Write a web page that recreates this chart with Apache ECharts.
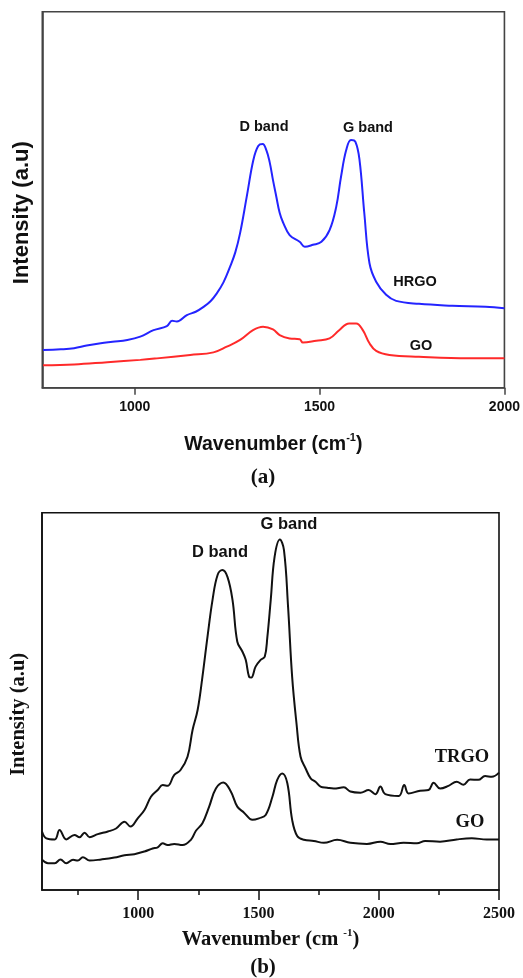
<!DOCTYPE html>
<html>
<head>
<meta charset="utf-8">
<script src="https://cdn.jsdelivr.net/npm/echarts@6/dist/echarts.min.js"></script>
<style>
html,body{margin:0;padding:0;background:#fff;}
#c{width:523px;height:978px;}
</style>
</head>
<body>
<div id="c"></div>
<script>
// ---------- Panel (a) ----------
const aTicks = [1000, 1500, 2000];
const hrgoX = [752,800,836,870,908,940,980,1015,1051,1087,1101,1114,1141,1165,1186,1205,1222,1240,1258,1272,1285,1303,1321,1334,1346,1356,1365,1374,1383,1392,1401,1419,1446,1460,1482,1505,1527,1545,1558,1572,1585,1597,1608,1621,1635,1653,1680,1707,1769,1859,1949,2000];
const hrgoY = [10.0,10.2,10.5,11.2,11.8,12.2,12.7,13.6,15.3,16.4,17.8,17.6,19.3,20.2,21.5,23.0,25.1,28.0,32.2,36.0,41.1,50.8,60.6,64.3,64.8,63.2,60.0,55.2,50.8,46.5,44.0,40.6,38.8,37.5,38.0,38.8,41.9,48.1,56.1,63.2,65.9,65.4,60.6,46.4,33.1,28.2,24.7,23.1,22.3,21.8,21.5,21.1];
const goAX = [752,836,926,1015,1060,1150,1213,1249,1285,1320,1347,1374,1392,1419,1446,1455,1491,1527,1553,1580,1599,1617,1635,1653,1689,1769,1904,2000];
const goAY = [6.0,6.2,6.8,7.4,7.8,8.7,9.4,10.9,12.7,15.3,16.2,15.5,14.0,13.1,12.9,12.0,12.5,13.1,15.3,17.1,17.1,15.3,11.8,9.8,8.7,8.2,7.8,7.8];

// ---------- Panel (b) ----------
const bTicks = [1000, 1500, 2000, 2500];
const bMinorTicks = [750, 1250, 1750, 2250];
const trgoX = [600,618,653,673,701,735,756,777,798,832,874,908,943,968,998,1026,1053,1081,1102,1122,1150,1176,1205,1226,1247,1267,1288,1309,1330,1350,1371,1392,1412,1433,1447,1461,1470,1488,1509,1526,1537,1551,1567,1589,1606,1623,1640,1658,1675,1696,1717,1737,1758,1786,1813,1855,1882,1924,1958,1986,2007,2027,2083,2106,2124,2172,2207,2228,2255,2290,2324,2352,2380,2414,2442,2470,2500];
const trgoY = [15.5,13.7,13.4,15.9,13.4,14.6,14.0,15.2,14.0,14.8,15.5,16.3,18.1,16.8,19.0,21.2,24.7,26.5,27.8,27.6,30.5,31.8,35.3,42.4,47.7,56.5,67.1,76.9,83.5,84.8,83.0,76.9,65.8,63.2,61.0,56.5,56.3,59.2,61.0,61.8,67.1,76.9,88.3,92.9,90.1,75.1,56.5,44.2,35.3,32.2,29.6,28.7,27.4,27.1,26.9,27.2,26.1,25.8,26.5,25.4,27.4,25.4,24.9,27.8,25.6,26.3,26.5,28.4,26.9,27.6,28.7,27.9,29.3,29.2,30.2,30.0,31.1];
const goBX = [600,625,653,677,701,729,749,770,798,846,901,943,984,1026,1060,1081,1102,1122,1150,1184,1219,1240,1267,1295,1323,1354,1385,1412,1440,1475,1502,1530,1558,1578,1599,1620,1640,1661,1689,1730,1772,1827,1882,1951,2007,2048,2103,2159,2193,2255,2324,2387,2449,2500];
const goBY = [8.0,7.1,7.1,8.1,7.1,8.0,7.8,8.7,7.8,8.1,8.6,9.2,9.5,10.2,11.0,11.3,12.4,11.9,12.2,11.9,13.3,15.7,17.7,22.1,26.9,28.5,26.1,22.1,20.5,18.6,19.0,19.9,24.7,29.2,30.9,28.3,18.6,14.3,13.3,13.0,12.5,13.3,12.5,12.2,12.8,12.2,12.5,12.4,13.0,12.8,13.4,13.7,13.4,13.4];

const zip = (xs, ys) => xs.map((x, i) => [x, ys[i]]);
const plain = v => String(v);

const SANS = "'Liberation Sans', Arial, sans-serif";
const SERIF = "'Liberation Serif', 'Times New Roman', serif";
const BOXA = '#444';
const BOXB = '#111';

const chart = echarts.init(document.getElementById('c'), null, {renderer: 'canvas'});

function yAxisFor(grid, color, font, size, gap) {
  return {
    gridIndex: grid, type: 'value', min: 0, max: 100,
    axisLine: {show: true, lineStyle: {color: color, width: 1.6}},
    axisTick: {show: false}, axisLabel: {show: false}, splitLine: {show: false},
    name: 'Intensity (a.u)', nameLocation: 'middle', nameRotate: 90, nameGap: gap,
    nameTextStyle: {fontFamily: font, fontWeight: 'bold', fontSize: size, color: '#111', padding: [0, 26, 0, 0]}
  };
}

const option = {
  animation: false,
  backgroundColor: '#fff',
  grid: [
    {left: 42.3, top: 11.7, width: 463.4, height: 376, show: true, borderColor: BOXA, borderWidth: 1.6, containLabel: false},
    {left: 40.7, top: 512.7, width: 458.3, height: 377.3, show: true, borderColor: BOXB, borderWidth: 1.6, containLabel: false}
  ],
  xAxis: [
    {
      gridIndex: 0, type: 'value', min: 750, max: 2000, position: 'bottom',
      axisLine: {show: true, lineStyle: {color: BOXA, width: 1.6}},
      axisTick: {show: true, customValues: aTicks, length: 7, lineStyle: {color: BOXA, width: 1.5}},
      axisLabel: {show: true, customValues: aTicks, formatter: plain, margin: 12, fontFamily: SANS, fontWeight: 'bold', fontSize: 14, color: '#111'},
      splitLine: {show: false},
      name: '{t|Wavenumber (cm}{s|-1}{t|)}', nameLocation: 'middle', nameGap: 45,
      nameTextStyle: {rich: {
        t: {fontFamily: SANS, fontWeight: 'bold', fontSize: 19.5, color: '#111', lineHeight: 24},
        s: {fontFamily: SANS, fontWeight: 'bold', fontSize: 11, color: '#111', verticalAlign: 'top', lineHeight: 24}
      }}
    },
    {
      gridIndex: 1, type: 'value', min: 600, max: 2500, position: 'bottom',
      axisLine: {show: true, lineStyle: {color: BOXB, width: 1.6}},
      axisTick: {show: true, customValues: bTicks, length: 10, lineStyle: {color: BOXB, width: 1.5}},
      axisLabel: {show: true, customValues: bTicks, formatter: plain, margin: 16, fontFamily: SERIF, fontWeight: 'bold', fontSize: 16, color: '#111'},
      splitLine: {show: false},
      name: '{t|Wavenumber (cm }{s|-1}{t|)}', nameLocation: 'middle', nameGap: 38,
      nameTextStyle: {rich: {
        t: {fontFamily: SERIF, fontWeight: 'bold', fontSize: 20.5, color: '#111', lineHeight: 24},
        s: {fontFamily: SERIF, fontWeight: 'bold', fontSize: 11, color: '#111', verticalAlign: 'top', lineHeight: 24}
      }}
    },
    {
      gridIndex: 1, type: 'value', min: 600, max: 2500, position: 'bottom',
      axisLine: {show: false},
      axisTick: {show: true, customValues: bMinorTicks, length: 5, lineStyle: {color: BOXB, width: 1.5}},
      axisLabel: {show: false},
      splitLine: {show: false}
    }
  ],
  yAxis: [
    yAxisFor(0, BOXA, SANS, 22, 9),
    yAxisFor(1, BOXB, SERIF, 20.5, 13)
  ],
  series: [
    {type: 'line', xAxisIndex: 0, yAxisIndex: 0, data: zip(hrgoX, hrgoY), showSymbol: false, smooth: 0.4,
      lineStyle: {color: '#2424ff', width: 2}},
    {type: 'line', xAxisIndex: 0, yAxisIndex: 0, data: zip(goAX, goAY), showSymbol: false, smooth: 0.4,
      lineStyle: {color: '#ff2a2a', width: 2}},
    {type: 'line', xAxisIndex: 1, yAxisIndex: 1, data: zip(trgoX, trgoY), showSymbol: false, smooth: 0.4,
      lineStyle: {color: '#111', width: 2}},
    {type: 'line', xAxisIndex: 1, yAxisIndex: 1, data: zip(goBX, goBY), showSymbol: false, smooth: 0.4,
      lineStyle: {color: '#111', width: 2}}
  ],
  graphic: [
    {type: 'text', x: 264, y: 127, style: {text: 'D band', fill: '#111', fontFamily: SANS, fontWeight: 'bold', fontSize: 14.5, align: 'center', verticalAlign: 'middle'}},
    {type: 'text', x: 368, y: 128, style: {text: 'G band', fill: '#111', fontFamily: SANS, fontWeight: 'bold', fontSize: 14.5, align: 'center', verticalAlign: 'middle'}},
    {type: 'text', x: 415, y: 282, style: {text: 'HRGO', fill: '#111', fontFamily: SANS, fontWeight: 'bold', fontSize: 14.5, align: 'center', verticalAlign: 'middle'}},
    {type: 'text', x: 421, y: 346, style: {text: 'GO', fill: '#111', fontFamily: SANS, fontWeight: 'bold', fontSize: 14.5, align: 'center', verticalAlign: 'middle'}},
    {type: 'text', x: 263, y: 478, style: {text: '(a)', fill: '#111', fontFamily: SERIF, fontWeight: 'bold', fontSize: 21, align: 'center', verticalAlign: 'middle'}},
    {type: 'text', x: 220, y: 552, style: {text: 'D band', fill: '#111', fontFamily: SANS, fontWeight: 'bold', fontSize: 16.5, align: 'center', verticalAlign: 'middle'}},
    {type: 'text', x: 289, y: 524, style: {text: 'G band', fill: '#111', fontFamily: SANS, fontWeight: 'bold', fontSize: 16.5, align: 'center', verticalAlign: 'middle'}},
    {type: 'text', x: 462, y: 757, style: {text: 'TRGO', fill: '#111', fontFamily: SERIF, fontWeight: 'bold', fontSize: 18.5, align: 'center', verticalAlign: 'middle'}},
    {type: 'text', x: 470, y: 822, style: {text: 'GO', fill: '#111', fontFamily: SERIF, fontWeight: 'bold', fontSize: 18.5, align: 'center', verticalAlign: 'middle'}},
    {type: 'text', x: 263, y: 968, style: {text: '(b)', fill: '#111', fontFamily: SERIF, fontWeight: 'bold', fontSize: 21, align: 'center', verticalAlign: 'middle'}}
  ]
};
chart.setOption(option);
</script>
</body>
</html>
